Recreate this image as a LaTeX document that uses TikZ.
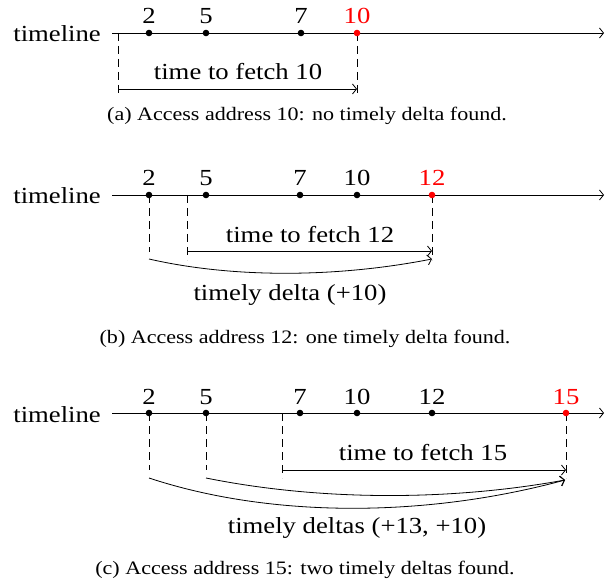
\documentclass[tikz,border=0pt]{standalone}
\usepackage{fontspec}
\setmainfont{Liberation Serif}
\usetikzlibrary{arrows.meta}
\newcommand{\wx}[1]{\scalebox{1.16}[1]{#1}}
\begin{document}
\begin{tikzpicture}[x=1pt,y=-1pt,
  axisline/.style={line width=0.8pt,-{Straight Barb[length=4pt,width=10pt]}},
  arr/.style={line width=0.8pt,-{Straight Barb[length=4pt,width=10pt]}},
  guide/.style={line width=0.7pt,dash pattern=on 8pt off 5pt},
  tlab/.style={font=\fontsize{23}{23}\selectfont,inner sep=0pt,anchor=base east},
  lab/.style={font=\fontsize{23}{23}\selectfont,inner sep=0pt,anchor=base},
  capt/.style={font=\fontsize{19}{19}\selectfont,inner sep=0pt,anchor=base},
  dot/.style={circle,fill=black,inner sep=0pt,minimum size=6.6pt},
  rdot/.style={dot,fill=red},
  redtxt/.style={text=red}]
\useasboundingbox (0,0) rectangle (613,588);

% ---------- panel (a) ----------
\node[tlab] (atl) at (101,42) {\wx{timeline}};
\coordinate (a0) at (112,33);
\coordinate (aE) at (604,33);
\draw[axisline] (a0) -- (aE);
\coordinate (as) at (118,33);
\coordinate (asB) at (118,97);
\coordinate (aeB) at (357,97);
\coordinate (afs) at (118,89);
\coordinate (afe) at (357,89);
\draw[guide] (as) -- (asB);
\draw[guide] (357,33) -- (aeB);
\draw[arr] (afs) -- (afe);
\node[dot] (a2) at (149,33) {};
\node[dot] (a5) at (206,33) {};
\node[dot] (a7) at (301,33) {};
\node[rdot] (a10) at (357,33) {};
\node[lab] (a2l) at (149,23.5) {\wx{2}};
\node[lab] (a5l) at (206,23.5) {\wx{5}};
\node[lab] (a7l) at (301,23.5) {\wx{7}};
\node[lab,redtxt] (a10l) at (357,23.5) {\wx{10}};
\node[lab] (afl) at (238,80) {\wx{time to fetch 10}};
\node[capt] (acap) at (307,121) {\wx{(a) Access address 10: no timely delta found.}};

% ---------- panel (b) ----------
\node[tlab] (btl) at (101,204) {\wx{timeline}};
\coordinate (b0) at (112,195);
\coordinate (bE) at (604,195);
\draw[axisline] (b0) -- (bE);
\coordinate (b2B) at (149,252);
\coordinate (bs) at (187,195);
\coordinate (bsB) at (187,260);
\coordinate (beB) at (432,260);
\coordinate (bfs) at (187,251);
\coordinate (bfe) at (432,251);
\coordinate (bcs) at (149,259);
\coordinate (bce) at (432,259);
\draw[guide] (149,195) -- (b2B);
\draw[guide] (bs) -- (bsB);
\draw[guide] (432,195) -- (beB);
\draw[arr] (bfs) -- (bfe);
\draw[arr] (bcs) .. controls (232,278) and (335,278) .. (bce);
\node[dot] (b2) at (149,195) {};
\node[dot] (b5) at (206,195) {};
\node[dot] (b7) at (300,195) {};
\node[dot] (b10) at (357,195) {};
\node[rdot] (b12) at (432,195) {};
\node[lab] (b2l) at (149,186) {\wx{2}};
\node[lab] (b5l) at (206,186) {\wx{5}};
\node[lab] (b7l) at (300,186) {\wx{7}};
\node[lab] (b10l) at (357,186) {\wx{10}};
\node[lab,redtxt] (b12l) at (432,186) {\wx{12}};
\node[lab] (bfl) at (310,242) {\wx{time to fetch 12}};
\node[lab] (bdl) at (290,300) {\wx{timely delta (+10)}};
\node[capt] (bcap) at (305,343) {\wx{(b) Access address 12: one timely delta found.}};

% ---------- panel (c) ----------
\node[tlab] (ctl) at (101,422) {\wx{timeline}};
\coordinate (c0) at (112,413);
\coordinate (cE) at (604,413);
\draw[axisline] (c0) -- (cE);
\coordinate (c2B) at (149,470);
\coordinate (c5B) at (206,470);
\coordinate (cs) at (282,413);
\coordinate (csB) at (282,478);
\coordinate (ceB) at (566,478);
\coordinate (cfs) at (282,470);
\coordinate (cfe) at (566,470);
\coordinate (cc1) at (149,478);
\coordinate (cc2) at (206,478);
\coordinate (cce) at (565,480);
\draw[guide] (149,413) -- (c2B);
\draw[guide] (206,413) -- (c5B);
\draw[guide] (cs) -- (csB);
\draw[guide] (566,413) -- (ceB);
\draw[arr] (cfs) -- (cfe);
\draw[arr] (cc1) .. controls (270,518) and (425,518) .. (cce);
\draw[arr] (cc2) .. controls (320,501) and (450,501) .. (cce);
\node[dot] (c2) at (149,413) {};
\node[dot] (c5) at (206,413) {};
\node[dot] (c7) at (300,413) {};
\node[dot] (c10) at (357,413) {};
\node[dot] (c12) at (432,413) {};
\node[rdot] (c15) at (566,413) {};
\node[lab] (c2l) at (149,404) {\wx{2}};
\node[lab] (c5l) at (206,404) {\wx{5}};
\node[lab] (c7l) at (300,404) {\wx{7}};
\node[lab] (c10l) at (357,404) {\wx{10}};
\node[lab] (c12l) at (432,404) {\wx{12}};
\node[lab,redtxt] (c15l) at (566,404) {\wx{15}};
\node[lab] (cfl) at (423,460) {\wx{time to fetch 15}};
\node[lab] (cdl) at (357,533) {\wx{timely deltas (+13, +10)}};
\node[capt] (ccap) at (305,574) {\wx{(c) Access address 15: two timely deltas found.}};
\end{tikzpicture}
\end{document}
